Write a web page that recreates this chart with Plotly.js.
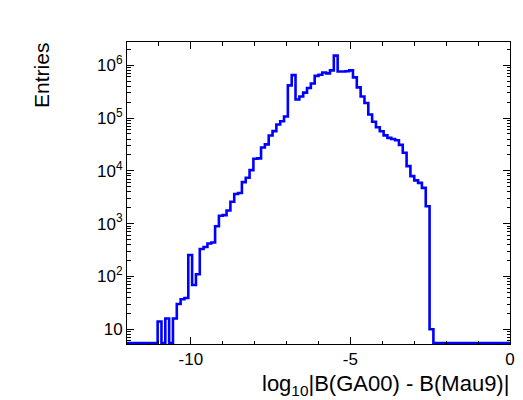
<!DOCTYPE html>
<html>
<head>
<meta charset="utf-8">
<script src="https://cdn.plot.ly/plotly-3.0.1.min.js"></script>
<style>
html, body { margin: 0; padding: 0; background: #ffffff; }
#chart { width: 523px; height: 400px; }
</style>
</head>
<body>
<div id="chart"></div>
<script>
// Histogram: 100 bins from -12 to 0
const binStart = -12;
const binWidth = 0.12;
const counts = [
  0, 0, 0, 0, 0, 0, 0, 0, 14, 0,
  16, 0, 16, 30, 37, 39, 254, 69, 110, 330,
  360, 420, 440, 890, 1410, 1450, 1770, 2600, 3640, 3800,
  6100, 7400, 10300, 16900, 17200, 27600, 31700, 46800, 56500, 75400,
  87000, 107000, 415000, 650000, 225000, 255000, 303000, 370000, 450000, 630000,
  660000, 730000, 700000, 800000, 1520000, 760000, 760000, 770000, 800000, 590000,
  380000, 255000, 192000, 117000, 85000, 67000, 56000, 47000, 42000, 40000,
  38000, 31000, 22000, 12300, 7950, 6600, 5900, 4750, 2130, 10,
  0, 0, 0, 0, 0, 0, 0, 0, 0, 0,
  0, 0, 0, 0, 0, 0, 0, 0, 0, 0
];
const xTickVals = [-10, -5, 0];
const xTickText = ["-10", "-5", "0"];
const yTickVals = [10, 100, 1000, 10000, 100000, 1000000];
const yTickText = ["10", "10<sup>2</sup>", "10<sup>3</sup>", "10<sup>4</sup>", "10<sup>5</sup>", "10<sup>6</sup>"];
const xTitle = "log<sub>10</sub>|B(GA00) - B(Mau9)|";
const yTitle = "Entries";

const yLogRange = [0.72, 6.44];
const yFloor = Math.pow(10, yLogRange[0] + 0.02); // empty bins drawn at frame bottom, like ROOT

const edges = [];
for (let i = 0; i <= counts.length; i++) edges.push(binStart + i * binWidth);
const ys = counts.map(c => c > 0 ? c : yFloor);
ys.push(ys[ys.length - 1]);

const minorY = [];
for (let d = 0; d <= 6; d++) for (let m = 2; m <= 9; m++) minorY.push(m * Math.pow(10, d));

const font = "Liberation Sans, Arial, Helvetica, sans-serif";

const trace = {
  x: edges,
  y: ys,
  type: "scatter",
  mode: "lines",
  line: { shape: "hv", color: "#0000ff", width: 2.6 },
  hoverinfo: "skip"
};

const layout = {
  width: 523, height: 400,
  margin: { l: 127, r: 13, t: 42, b: 56, pad: 0 },
  paper_bgcolor: "#ffffff",
  plot_bgcolor: "#ffffff",
  showlegend: false,
  font: { family: font, color: "#000000", size: 17 },
  xaxis: {
    range: [-12, 0],
    tickmode: "array", tickvals: xTickVals, ticktext: xTickText,
    ticks: "inside", ticklen: 7, tickwidth: 1, tickcolor: "#000",
    showline: true, linecolor: "#000", linewidth: 1, mirror: "ticks",
    showgrid: false, zeroline: false,
    tickfont: { family: font, size: 17, color: "#000" },
    minor: { dtick: 1, tick0: 0, ticks: "inside", ticklen: 3.5, tickwidth: 1, tickcolor: "#000", showgrid: false }
  },
  yaxis: {
    type: "log",
    range: yLogRange,
    tickmode: "array", tickvals: yTickVals, ticktext: yTickText,
    ticks: "inside", ticklen: 7, tickwidth: 1, tickcolor: "#000",
    showline: true, linecolor: "#000", linewidth: 1, mirror: "ticks",
    showgrid: false, zeroline: false,
    tickfont: { family: font, size: 17, color: "#000" },
    minor: { tickmode: "array", tickvals: minorY, ticks: "inside", ticklen: 3.5, tickwidth: 1, tickcolor: "#000", showgrid: false }
  },
  annotations: [
    {
      text: xTitle, xref: "paper", yref: "paper",
      x: 1.003, y: -0.082, xanchor: "right", yanchor: "top",
      showarrow: false, font: { family: font, size: 22, color: "#000" }
    },
    {
      text: yTitle, xref: "paper", yref: "paper",
      x: -0.222, y: 1.005, xanchor: "center", yanchor: "top", textangle: -90,
      showarrow: false, font: { family: font, size: 21, color: "#000" }
    }
  ]
};

Plotly.newPlot("chart", [trace], layout, { displayModeBar: false, staticPlot: true });
</script>
</body>
</html>
